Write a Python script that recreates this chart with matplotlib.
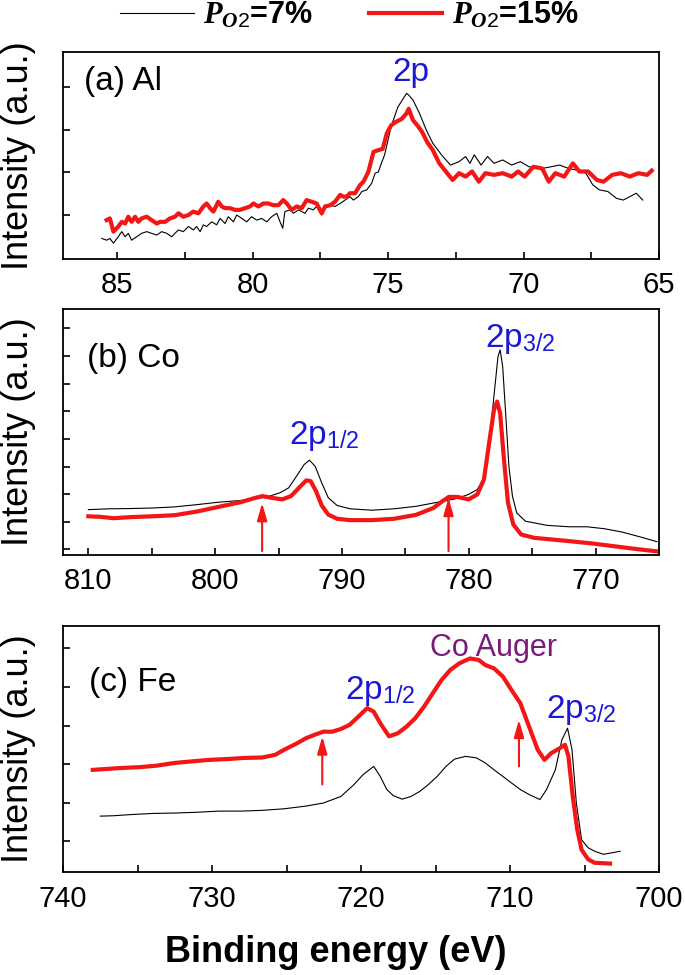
import matplotlib
matplotlib.use("Agg")
import matplotlib.pyplot as plt
from matplotlib.lines import Line2D
from matplotlib.ticker import MultipleLocator
import numpy as np

plt.rcParams["font.family"] = ["Liberation Sans", "DejaVu Sans"]
plt.rcParams["mathtext.fontset"] = "custom"
plt.rcParams["mathtext.rm"] = "Liberation Sans"
plt.rcParams["mathtext.it"] = "Liberation Serif:italic:bold"
plt.rcParams["mathtext.bf"] = "Liberation Sans:bold"

# ---- (a) Al 2p ----
al_x_7 = [85.57, 85.39, 85.27, 85.14, 84.96, 84.83, 84.71, 84.59, 84.47, 84.28,
          84.10, 83.91, 83.73, 83.54, 83.36, 83.17, 82.99, 82.87, 82.74, 82.56,
          82.37, 82.19, 82.07, 81.94, 81.82, 81.70, 81.51, 81.33, 81.20, 81.02,
          80.90, 80.71, 80.59, 80.40, 80.22, 80.04, 79.85, 79.67, 79.48, 79.30,
          79.11, 78.99, 78.89, 78.81, 78.62, 78.50, 78.31, 78.19, 78.07, 77.94,
          77.76, 77.64, 77.45, 77.33, 77.14, 76.96, 76.77, 76.59, 76.41, 76.28,
          76.10, 75.97, 75.79, 75.61, 75.48, 75.36, 75.25, 75.13, 74.89, 74.64,
          74.40, 74.32, 74.24, 74.08, 73.84, 73.59, 73.35, 73.03, 72.70, 72.38,
          72.14, 71.98, 71.82, 71.57, 71.33, 71.09, 70.77, 70.44, 70.12, 69.80,
          69.31, 68.99, 68.67, 68.34, 68.02, 67.70, 67.45, 67.21, 66.89, 66.57,
          66.32, 66.08, 65.84, 65.60]
al_y_7 = [-0.55, -0.59, -0.55, -0.66, -0.51, -0.39, -0.51, -0.43, -0.59, -0.51,
          -0.43, -0.39, -0.43, -0.47, -0.39, -0.43, -0.51, -0.43, -0.35, -0.39,
          -0.27, -0.35, -0.27, -0.39, -0.23, -0.27, -0.16, -0.23, -0.08, -0.20,
          -0.04, -0.16, 0.00, -0.08, -0.16, -0.04, -0.12, -0.08, -0.16, -0.04,
          0.04, -0.16, -0.31, 0.08, 0.12, 0.04, 0.12, 0.08, 0.04, 0.16,
          0.12, 0.20, 0.00, 0.16, 0.23, 0.20, 0.27, 0.35, 0.43, 0.35,
          0.43, 0.55, 0.59, 0.74, 0.98, 1.01, 1.21, 1.41, 2.07, 2.53,
          2.77, 2.85, 2.81, 2.69, 2.38, 1.99, 1.68, 1.41, 1.17, 1.25,
          1.37, 1.21, 1.41, 1.17, 1.37, 1.21, 1.29, 1.17, 1.25, 1.13,
          1.09, 1.13, 1.17, 1.09, 1.05, 0.98, 0.71, 0.59, 0.55, 0.39,
          0.35, 0.43, 0.51, 0.35]

al_x_15 = [85.39, 85.27, 85.14, 84.96, 84.83, 84.71, 84.59, 84.47, 84.34, 84.22,
           84.10, 83.91, 83.73, 83.54, 83.42, 83.23, 83.05, 82.87, 82.74, 82.56,
           82.37, 82.19, 82.00, 81.82, 81.70, 81.57, 81.45, 81.27, 81.14, 81.02,
           80.84, 80.65, 80.47, 80.28, 80.10, 79.97, 79.79, 79.60, 79.42, 79.24,
           79.05, 78.87, 78.74, 78.56, 78.37, 78.19, 78.01, 77.82, 77.64, 77.45,
           77.33, 77.14, 76.96, 76.77, 76.65, 76.53, 76.41, 76.22, 76.04, 75.91,
           75.73, 75.54, 75.36, 75.20, 75.05, 74.89, 74.72, 74.50, 74.32, 74.24,
           74.16, 74.08, 73.92, 73.75, 73.55, 73.35, 73.11, 72.87, 72.62, 72.38,
           72.14, 71.90, 71.65, 71.41, 71.09, 70.77, 70.44, 70.20, 69.96, 69.64,
           69.31, 69.07, 68.83, 68.50, 68.18, 67.94, 67.62, 67.29, 67.05, 66.73,
           66.41, 66.08, 65.76, 65.44, 65.27]
al_y_15 = [-0.12, -0.08, -0.39, -0.27, -0.16, -0.20, -0.04, -0.16, -0.04, -0.16,
           -0.08, -0.04, -0.12, -0.20, -0.16, -0.16, -0.08, -0.04, 0.04, -0.04,
           0.00, 0.08, 0.04, 0.20, 0.27, 0.16, 0.08, 0.31, 0.20, 0.16,
           0.16, 0.12, 0.12, 0.16, 0.20, 0.27, 0.20, 0.27, 0.27, 0.23,
           0.23, 0.35, 0.27, 0.12, 0.20, 0.16, 0.35, 0.31, 0.27, 0.04,
           0.20, 0.23, 0.31, 0.47, 0.43, 0.43, 0.51, 0.51, 0.70, 0.78,
           1.01, 1.48, 1.52, 1.55, 1.91, 2.10, 2.18, 2.25, 2.38, 2.49,
           2.35, 2.22, 2.10, 1.95, 1.70, 1.52, 1.21, 1.02, 0.82, 0.98,
           0.90, 1.02, 0.78, 0.98, 0.94, 0.98, 0.90, 1.02, 0.90, 1.13,
           1.09, 0.78, 0.98, 0.90, 1.21, 1.02, 1.02, 0.82, 0.78, 0.94,
           0.98, 0.90, 0.98, 0.94, 1.04]

# ---- (b) Co 2p ----
co_x_7 = [810.0, 808.37, 806.64, 804.91, 803.18, 801.46, 799.73, 798.00, 796.96, 795.92,
          794.89, 794.20, 793.50, 792.99, 792.57, 792.12, 791.60, 791.08, 790.39, 789.36,
          787.63, 785.90, 784.17, 782.44, 781.06, 780.02, 779.33, 778.81, 778.36, 778.02,
          777.70, 777.53, 777.33, 777.08, 776.84, 776.56, 776.22, 775.53, 773.80, 772.07,
          770.69, 769.31, 767.92, 766.54, 765.16]
co_y_7 = [1.44, 1.47, 1.48, 1.50, 1.54, 1.62, 1.71, 1.77, 1.83, 1.90,
          2.05, 2.23, 2.71, 3.07, 3.23, 3.01, 2.41, 1.87, 1.59, 1.47,
          1.42, 1.47, 1.56, 1.71, 1.83, 1.99, 2.17, 2.59, 3.97, 5.54,
          6.98, 7.22, 6.62, 4.81, 3.01, 1.93, 1.32, 1.02, 0.87, 0.82,
          0.82, 0.75, 0.63, 0.46, 0.28]

co_x_15 = [810.0, 809.06, 808.02, 806.64, 804.91, 803.18, 801.46, 799.73, 798.00, 796.96,
           796.27, 795.58, 794.71, 794.02, 793.33, 792.81, 792.47, 792.05, 791.60, 791.08,
           790.39, 789.36, 787.63, 785.90, 784.17, 782.79, 782.10, 781.58, 780.89, 780.02,
           779.33, 778.81, 778.36, 778.02, 777.77, 777.53, 777.25, 776.91, 776.49, 775.87,
           774.84, 773.45, 772.07, 770.34, 768.61, 766.88, 765.16]
co_y_15 = [1.20, 1.18, 1.13, 1.17, 1.20, 1.24, 1.37, 1.54, 1.71, 1.85,
           1.93, 1.87, 1.81, 1.93, 2.26, 2.50, 2.47, 2.11, 1.59, 1.26,
           1.11, 1.06, 1.06, 1.11, 1.25, 1.50, 1.74, 1.90, 1.90, 1.81,
           1.99, 2.53, 3.97, 5.05, 5.35, 4.93, 3.37, 1.68, 0.90, 0.54,
           0.42, 0.36, 0.30, 0.22, 0.12, 0.02, -0.07]

co_arrow_x = [796.3, 781.6]
co_arrow_tail = [-0.06, -0.06]
co_arrow_head = [1.68, 1.87]

# ---- (c) Fe 2p ----
fe_x_7 = [737.50, 736.62, 735.45, 733.98, 732.51, 731.04, 729.57, 728.11, 726.64, 725.17,
          723.70, 722.53, 721.35, 720.47, 719.88, 719.15, 718.71, 718.27, 717.83, 717.24,
          716.65, 716.06, 715.48, 714.89, 714.30, 713.72, 712.98, 712.25, 711.66, 711.07,
          710.48, 709.90, 709.31, 708.72, 707.99, 707.55, 706.96, 706.52, 706.14, 705.84,
          705.55, 705.20, 704.76, 704.32, 703.74, 703.14, 702.61]
fe_y_7 = [0.65, 0.66, 0.69, 0.72, 0.73, 0.75, 0.78, 0.78, 0.80, 0.84,
          0.91, 0.99, 1.16, 1.47, 1.72, 1.94, 1.68, 1.34, 1.18, 1.09,
          1.16, 1.29, 1.47, 1.68, 1.94, 2.13, 2.20, 2.16, 2.03, 1.85,
          1.68, 1.51, 1.34, 1.21, 1.08, 1.34, 1.85, 2.63, 2.93, 2.37,
          0.99, 0.04, -0.17, -0.26, -0.34, -0.30, -0.26]

fe_x_15 = [738.00, 737.21, 736.04, 734.86, 733.69, 732.51, 731.34, 730.16, 728.99, 727.81,
           726.64, 725.76, 725.17, 724.29, 723.70, 723.11, 722.53, 721.94, 721.35, 720.76,
           720.18, 719.59, 719.15, 718.71, 718.12, 717.53, 716.95, 716.36, 715.77, 715.18,
           714.60, 714.01, 713.42, 712.69, 712.10, 711.66, 711.07, 710.48, 709.90, 709.31,
           708.72, 708.14, 707.69, 707.25, 706.67, 706.31, 706.08, 705.79, 705.49, 705.20,
           704.76, 704.32, 703.29]
fe_y_15 = [1.85, 1.87, 1.90, 1.92, 1.96, 2.03, 2.07, 2.11, 2.13, 2.16,
           2.17, 2.24, 2.37, 2.54, 2.67, 2.76, 2.84, 2.84, 2.91, 3.02,
           3.23, 3.45, 3.36, 3.06, 2.72, 2.80, 2.97, 3.19, 3.49, 3.84,
           4.18, 4.44, 4.61, 4.74, 4.70, 4.57, 4.48, 4.27, 3.92, 3.58,
           2.97, 2.37, 2.11, 2.28, 2.41, 2.50, 2.20, 1.16, 0.30, -0.22,
           -0.47, -0.56, -0.58]

fe_arrow_x = [722.6, 709.4]
fe_arrow_tail = [1.47, 1.94]
fe_arrow_head = [2.72, 3.15]

BLUE = "#1a1ad6"
PURPLE = "#7a1a7a"
RED = "#f21616"


def style_axis(ax, xlim, ylim, major, minor, nyticks):
    ax.set_xlim(*xlim)
    ax.set_ylim(*ylim)
    ax.xaxis.set_major_locator(MultipleLocator(major))
    ax.xaxis.set_minor_locator(MultipleLocator(minor))
    ax.set_yticks(range(nyticks))
    ax.set_yticklabels([])
    ax.tick_params(which="both", direction="in", length=5, width=1.2,
                   top=False, right=False, labelsize=21, pad=9)
    for sp in ax.spines.values():
        sp.set_linewidth(1.3)
    ax.set_ylabel("Intensity (a.u.)", fontsize=26)
    ax.yaxis.set_label_coords(-0.045, 0.5)


def draw_arrows(ax, xs, tails, heads):
    for x, t, h in zip(xs, tails, heads):
        ax.annotate("", xy=(x, h), xytext=(x, t),
                    arrowprops=dict(arrowstyle="-|>,head_width=0.2,head_length=0.7",
                                    color=RED, lw=1.5, mutation_scale=15,
                                    shrinkA=0, shrinkB=0))


fig = plt.figure(figsize=(6.85, 9.75), dpi=100)
ax_a = fig.add_axes([0.0920, 0.7344, 0.8701, 0.2123])
ax_b = fig.add_axes([0.0920, 0.4308, 0.8701, 0.2523])
ax_c = fig.add_axes([0.0920, 0.1056, 0.8701, 0.2523])

# (a)
ax_a.plot(al_x_7, al_y_7, color="black", lw=0.8)
ax_a.plot(al_x_15, al_y_15, color=RED, lw=3)
style_axis(ax_a, (87, 65), (-1.03, 3.82), 5, 2.5, 4)
ax_a.text(0.035, 0.855, "(a) Al", transform=ax_a.transAxes, fontsize=24, va="center")
ax_a.text(74.16, 3.35, "2p", color=BLUE, fontsize=24, ha="center", va="center")

# (b)
ax_b.plot(co_x_7, co_y_7, color="black", lw=0.8)
ax_b.plot(co_x_15, co_y_15, color=RED, lw=3)
style_axis(ax_b, (812, 765), (-0.2, 8.7), 10, 5, 9)
draw_arrows(ax_b, co_arrow_x, co_arrow_tail, co_arrow_head)
ax_b.text(0.04, 0.80, "(b) Co", transform=ax_b.transAxes, fontsize=24, va="center")
ax_b.text(791.4, 4.1, "2p$_{1/2}$", color=BLUE, fontsize=24, ha="center", va="center")
ax_b.text(775.9, 7.6, "2p$_{3/2}$", color=BLUE, fontsize=24, ha="center", va="center")

# (c)
ax_c.plot(fe_x_7, fe_y_7, color="black", lw=0.8)
ax_c.plot(fe_x_15, fe_y_15, color=RED, lw=3)
style_axis(ax_c, (740, 700), (-0.8, 5.58), 10, 5, 6)
draw_arrows(ax_c, fe_arrow_x, fe_arrow_tail, fe_arrow_head)
ax_c.text(0.044, 0.77, "(c) Fe", transform=ax_c.transAxes, fontsize=24, va="center")
ax_c.text(718.7, 3.9, "2p$_{1/2}$", color=BLUE, fontsize=24, ha="center", va="center")
ax_c.text(711.1, 5.0, "Co Auger", color=PURPLE, fontsize=22, ha="center", va="center")
ax_c.text(705.2, 3.4, "2p$_{3/2}$", color=BLUE, fontsize=24, ha="center", va="center")
ax_c.set_xlabel("Binding energy (eV)", fontsize=26, fontweight="bold")
ax_c.xaxis.set_label_coords(0.458, -0.256)
ax_c.xaxis.label.set_va("top")

handles = [Line2D([], [], color="black", lw=0.8), Line2D([], [], color=RED, lw=3)]
labels = [r"$\mathit{P}_{\mathit{O2}}$=7%", r"$\mathit{P}_{\mathit{O2}}$=15%"]
fig.legend(handles, labels, loc="upper center", bbox_to_anchor=(0.51, 1.028), ncol=2,
           frameon=False, handlelength=2.4, columnspacing=1.85, handletextpad=0.3,
           prop=dict(family="Liberation Sans", weight="bold", size=22))

fig.savefig("out.png", dpi=100)
